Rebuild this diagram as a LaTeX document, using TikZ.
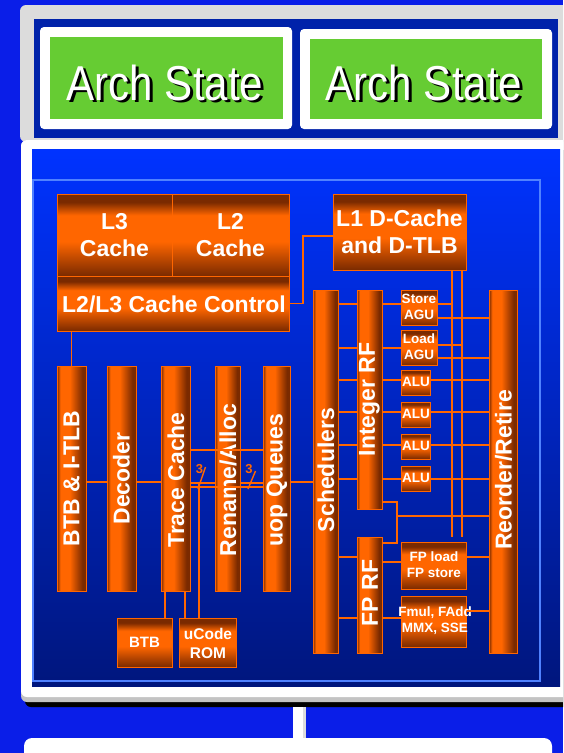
\documentclass[tikz,border=0pt]{standalone}
\usepackage{fontspec}
\setmainfont{Liberation Sans}
\usepackage{graphicx}
\definecolor{bgblue}{RGB}{10,30,232}
\definecolor{pgray}{RGB}{220,220,220}
\definecolor{sgray}{RGB}{195,195,195}
\definecolor{archblue}{RGB}{0,34,170}
\definecolor{archgreen}{RGB}{102,204,51}
\definecolor{lowtop}{RGB}{0,51,255}
\definecolor{lowbot}{RGB}{0,22,125}
\definecolor{rimblue}{RGB}{80,130,255}
\definecolor{dkor}{RGB}{122,42,0}
\definecolor{bror}{RGB}{255,102,0}
\pgfdeclarehorizontalshading{colshade}{100bp}{color(0bp)=(dkor); color(25bp)=(dkor); color(31bp)=(bror); color(47bp)=(bror); color(69bp)=(dkor); color(100bp)=(dkor)}
\pgfdeclareverticalshading{boxshade}{100bp}{color(0bp)=(dkor); color(25bp)=(dkor); color(46bp)=(bror); color(62bp)=(bror); color(70bp)=(dkor); color(100bp)=(dkor)}
\newcommand{\archlabel}{\rlap{\kern2.5pt\raisebox{-2.5pt}{\color{black}\scalebox{0.86}[1]{Arch State}}}\scalebox{0.86}[1]{Arch State}}
\begin{document}
\begin{tikzpicture}[x=1pt,y=-1pt,
  col/.style={draw=bror, line width=1pt, shading=colshade, inner sep=0pt},
  box/.style={draw=bror, line width=1pt, shading=boxshade, inner sep=0pt},
  wire/.style={draw=bror, line width=1.4pt},
  coltext/.style={text=white, font=\fontsize{23}{23}\selectfont\bfseries, rotate=90, inner sep=0pt},
  boxtext/.style={text=white, font=\fontsize{23}{27}\selectfont\bfseries, align=center, inner sep=0pt},
  smalltext/.style={text=white, font=\fontsize{13.5}{16}\selectfont\bfseries, align=center, inner sep=0pt},
  archtext/.style={font=\fontsize{49}{49}\selectfont, text=white, inner sep=0pt, anchor=base},
  threelab/.style={text=bror, font=\fontsize{13}{13}\selectfont\bfseries, inner sep=0pt}
]
\useasboundingbox (0,0) rectangle (563,753);
\clip (0,0) rectangle (563,753);
\fill[bgblue] (0,0) rectangle (563,753);

% upper panel
\fill[pgray, rounded corners=6pt] (20,5) rectangle (600,142);
\fill[archblue] (34,19) rectangle (558,138);
\node[fill=white, rounded corners=4pt, minimum width=252, minimum height=102, inner sep=0pt] (wa) at (166,78) {};
\node[fill=archgreen, minimum width=233, minimum height=82, inner sep=0pt] (ga) at (166.5,78) {};
\node[fill=white, rounded corners=4pt, minimum width=252, minimum height=100, inner sep=0pt] (wb) at (426,79) {};
\node[fill=archgreen, minimum width=232, minimum height=80, inner sep=0pt] (gb) at (426,79) {};
\node[archtext] (ta) at (165,100) {\archlabel};
\node[archtext] (tb) at (424,100) {\archlabel};

% lower panel
\fill[black, rounded corners=6pt] (25,150) rectangle (600,707);
\fill[sgray, rounded corners=6pt] (21,140) rectangle (600,702);
\fill[white, rounded corners=6pt] (21,140) rectangle (600,697);
\shade[top color=lowtop, bottom color=lowbot] (32,149) rectangle (560,686);
\draw[rimblue, line width=1.5pt] (33,180) rectangle (540,681);

% bottom connector and box
\fill[white] (293,707) rectangle (306,740);
\fill[pgray] (303,707) rectangle (306,740);
\fill[white, rounded corners=8pt] (24,738) rectangle (552,790);

% blocks
\node[box, minimum width=115, minimum height=82] (l3) at (114.5,235) {};
\node[box, minimum width=117, minimum height=82] (l2) at (230.5,235) {};
\node[box, minimum width=232, minimum height=55] (ctrl) at (173,303.5) {};
\node[box, minimum width=133, minimum height=76] (l1) at (399.5,232) {};
\node[boxtext] (tl3) at (l3.center) {L3\\Cache};
\node[boxtext] (tl2) at (l2.center) {L2\\Cache};
\node[boxtext] (tctrl) at (174,304) {L2/L3 Cache Control};
\node[boxtext] (tl1) at (l1.center) {L1 D-Cache\\and D-TLB};

\node[col, minimum width=29, minimum height=225] (btbitlb) at (71.5,478.5) {};
\node[col, minimum width=29, minimum height=225] (dec) at (121.5,478.5) {};
\node[col, minimum width=29, minimum height=225] (trace) at (175.5,478.5) {};
\node[col, minimum width=25, minimum height=225] (rename) at (227.5,478.5) {};
\node[col, minimum width=27, minimum height=225] (uop) at (276.5,478.5) {};
\node[coltext] (tbtbitlb) at (btbitlb.center) {BTB \& I-TLB};
\node[coltext] (tdec) at (dec.center) {Decoder};
\node[coltext] (ttrace) at (176,480) {Trace Cache};
\node[coltext] (trename) at (228,480) {Rename/Alloc};
\node[coltext] (tuop) at (277,480) {uop Queues};

\node[col, minimum width=25, minimum height=363] (sched) at (325.5,471.5) {};
\node[col, minimum width=25, minimum height=219] (intrf) at (369.5,399.5) {};
\node[col, minimum width=25, minimum height=116] (fprf) at (369.5,595) {};
\node[col, minimum width=28, minimum height=363] (reorder) at (503,471.5) {};
\node[coltext] (tsched) at (326,470) {Schedulers};
\node[coltext] (tintrf) at (intrf.center) {Integer RF};
\node[coltext] (tfprf) at (370,593) {FP RF};
\node[coltext] (treorder) at (503.5,470) {Reorder/Retire};

\node[box, minimum width=36, minimum height=35] (storeagu) at (419,307.5) {};
\node[box, minimum width=36, minimum height=35] (loadagu) at (419,347.5) {};
\node[box, minimum width=29, minimum height=25] (alua) at (415.5,382.5) {};
\node[box, minimum width=29, minimum height=25] (alub) at (415.5,414.5) {};
\node[box, minimum width=29, minimum height=25] (aluc) at (415.5,446.5) {};
\node[box, minimum width=29, minimum height=25] (alud) at (415.5,478.5) {};
\node[box, minimum width=65, minimum height=47] (fpld) at (433.5,565.5) {};
\node[box, minimum width=65, minimum height=51] (fmul) at (433.5,621.5) {};
\node[box, minimum width=55, minimum height=49] (btb) at (144.5,642.5) {};
\node[box, minimum width=57, minimum height=49] (ucode) at (207.5,642.5) {};
\node[smalltext] (tstore) at (419,307) {Store\\AGU};
\node[smalltext] (tload) at (419,347) {Load\\AGU};
\node[smalltext] (talua) at (416,382) {ALU};
\node[smalltext] (talub) at (416,414) {ALU};
\node[smalltext] (taluc) at (416,446) {ALU};
\node[smalltext] (talud) at (416,478) {ALU};
\node[smalltext] (tfpld) at (434,565) {FP load\\FP store};
\node[smalltext] (tfmul) at (435,621) {Fmul, FAdd\\MMX, SSE};
\node[smalltext, font=\fontsize{15}{15}\selectfont\bfseries] (tbtb) at (btb.center) {BTB};
\node[smalltext, font=\fontsize{15.5}{19}\selectfont\bfseries] (tucode) at (208,643) {uCode\\ROM};

% connectors
\draw[wire] (ctrl.east) -- (303,303.5) |- (l1.west |- 0,236);
\draw[wire] (ctrl.south -| btbitlb.north) -- (btbitlb.north);
\draw[wire] (btbitlb.east |- 0,482) -- (dec.west |- 0,482);
\draw[wire] (dec.east |- 0,482) -- (trace.west |- 0,482);
\draw[wire] (trace.east |- 0,483) -- (rename.west |- 0,483);
\draw[wire] (rename.east |- 0,483) -- (uop.west |- 0,483);
\draw[wire] (trace.east |- 0,450) -- (uop.west |- 0,450);
\draw[wire] (trace.east |- 0,487) -- (uop.west |- 0,487);
\draw[wire] (uop.east |- 0,482) -- (sched.west |- 0,482);
\draw[wire] (trace.south -| 165,0) -- (btb.north -| 165,0);
\draw[wire] (trace.south -| 185,0) -- (ucode.north -| 185,0);
\draw[wire] (199,483) -- (ucode.north -| 199,0);
\draw[wire] (205.5,467) -- (198,489);
\draw[wire] (255.5,471) -- (248,489);
\node[threelab] (three1) at (199.5,469) {3};
\node[threelab] (three2) at (249,469) {3};

\foreach \yy in {304,348,380,412,445,479}
  \draw[wire] (sched.east |- 0,\yy) -- (intrf.west |- 0,\yy);
\draw[wire] (intrf.east |- 0,304) -- (storeagu.west |- 0,304);
\draw[wire] (intrf.east |- 0,348) -- (loadagu.west |- 0,348);
\foreach \n/\yy in {alua/380, alub/412, aluc/445, alud/479} {
  \draw[wire] (intrf.east |- 0,\yy) -- (\n.west |- 0,\yy);
  \draw[wire] (\n.east |- 0,\yy) -- (reorder.west |- 0,\yy);
}
\draw[wire] (l1.south -| 452,0) -- (452,537);
\draw[wire] (l1.south -| 462,0) -- (462,537);
\draw[wire] (storeagu.east |- 0,304) -- (452,304);
\draw[wire] (storeagu.east |- 0,318) -- (reorder.west |- 0,318);
\draw[wire] (loadagu.east |- 0,345) -- (462,345);
\draw[wire] (loadagu.east |- 0,358) -- (reorder.west |- 0,358);
\draw[wire] (intrf.east |- 0,502) -| (397,543) -- (fprf.east |- 0,543);
\draw[wire] (397,516) -- (reorder.west |- 0,516);
\draw[wire] (sched.east |- 0,557) -- (fprf.west |- 0,557);
\draw[wire] (sched.east |- 0,618) -- (fprf.west |- 0,618);
\draw[wire] (fprf.east |- 0,562) -- (fpld.west |- 0,562);
\draw[wire] (fprf.east |- 0,618) -- (fmul.west |- 0,618);
\draw[wire] (fpld.east |- 0,557) -- (reorder.west |- 0,557);
\draw[wire] (fmul.east |- 0,611) -- (reorder.west |- 0,611);
\end{tikzpicture}
\end{document}
